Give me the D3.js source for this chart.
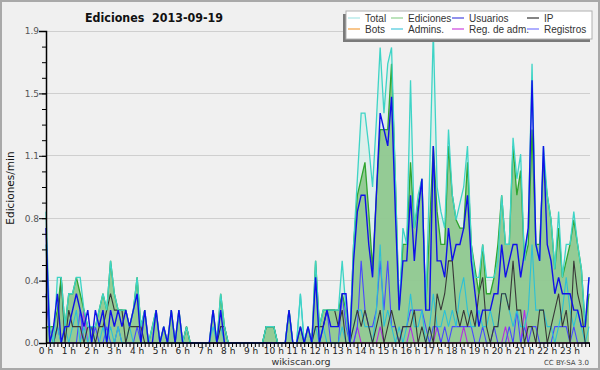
<!DOCTYPE html>
<html><head><meta charset="utf-8">
<script src="https://cdn.jsdelivr.net/npm/d3@7"></script>
<style>html,body{margin:0;padding:0;background:#f0f0f0;}svg{display:block;font-family:"DejaVu Sans",Verdana,sans-serif;}</style>
</head><body>
<svg id="c" width="600" height="370"></svg>
<script>
// ---- data (values per 10-minute slot, edits/min) ----
const hourLabels = ["0 h","1 h","2 h","3 h","4 h","5 h","6 h","7 h","8 h","9 h","10 h","11 h","12 h","13 h","14 h","15 h","16 h","17 h","18 h","19 h","20 h","21 h","22 h","23 h"];
const yTickValues = [0, 0.38, 0.76, 1.14, 1.52, 1.9];
const yTickLabels = ["0.0","0.4","0.8","1.1","1.5","1.9"];
const legendNames = ["Total","Ediciones","Usuarios","IP","Bots","Admins.","Reg. de adm.","Registros"];

const total = [
0.8,0.1,0.0,0.4,0.4,0.1, 0.3,0.3,0.4,0.4,0.2,0.1,
0.1,0.1,0.2,0.3,0.2,0.5, 0.3,0.2,0.2,0.2,0.1,0.2,
0.4,0.1,0.2,0.0,0.1,0.2, 0.0,0.1,0.0,0.2,0.0,0.2,
0.0,0.1,0.0,0.0,0.0,0.0, 0.0,0.0,0.2,0.0,0.3,0.1,
0.0,0.0,0.0,0.0,0.0,0.0, 0.0,0.0,0.0,0.0,0.1,0.1,
0.1,0.0,0.0,0.0,0.2,0.0, 0.0,0.3,0.0,0.1,0.0,0.5,
0.1,0.2,0.2,0.2,0.2,0.2, 0.5,0.2,0.0,0.6,1.0,1.4,
1.4,1.2,0.95,1.35,1.8,1.4, 1.7,1.8,1.0,0.2,0.7,0.6,
1.6,0.7,0.9,1.0,0.2,1.0, 1.9,0.95,0.8,0.7,1.3,0.9,
0.75,0.85,0.95,1.2,0.6,0.4, 0.4,0.6,0.4,0.4,0.4,0.5,
0.9,0.6,0.6,1.25,1.0,1.15, 0.5,0.7,1.7,0.6,0.5,1.2,
0.9,0.75,0.45,0.8,0.4,0.6, 0.6,0.8,0.6,0.45,0.1,0.4];

const ediciones = [
0.1,0.1,0.1,0.2,0.4,0.1, 0.3,0.3,0.4,0.3,0.2,0.1,
0.1,0.1,0.2,0.3,0.2,0.5, 0.3,0.2,0.2,0.2,0.1,0.2,
0.4,0.1,0.2,0.0,0.1,0.2, 0.0,0.1,0.0,0.2,0.0,0.2,
0.0,0.1,0.0,0.0,0.0,0.0, 0.0,0.0,0.2,0.0,0.3,0.1,
0.0,0.0,0.0,0.0,0.0,0.0, 0.0,0.0,0.0,0.0,0.1,0.1,
0.1,0.0,0.0,0.0,0.2,0.0, 0.0,0.1,0.0,0.1,0.0,0.5,
0.1,0.2,0.2,0.2,0.2,0.2, 0.3,0.2,0.0,0.6,0.9,1.0,
1.1,0.8,0.45,0.9,1.3,1.3, 1.3,1.7,1.0,0.2,0.6,0.6,
1.1,0.7,0.85,1.0,0.2,0.7, 1.2,0.8,0.6,0.6,1.2,0.9,
0.75,0.7,0.7,1.1,0.6,0.45, 0.3,0.6,0.3,0.3,0.4,0.6,
0.9,0.6,0.6,1.2,0.9,1.05, 0.5,0.6,1.3,0.6,0.6,1.1,
0.9,0.75,0.45,0.7,0.4,0.5, 0.6,0.75,0.6,0.45,0.1,0.3];

const usuarios = [
0.7,0.0,0.1,0.3,0.0,0.1, 0.1,0.2,0.3,0.2,0.1,0.2,
0.0,0.2,0.1,0.2,0.0,0.2, 0.1,0.2,0.1,0.2,0.1,0.2,
0.3,0.0,0.2,0.0,0.0,0.2, 0.0,0.1,0.0,0.2,0.0,0.2,
0.0,0.0,0.0,0.0,0.0,0.0, 0.0,0.0,0.2,0.0,0.2,0.0,
0.0,0.0,0.0,0.0,0.0,0.0, 0.0,0.0,0.0,0.0,0.0,0.0,
0.0,0.0,0.0,0.0,0.2,0.0, 0.0,0.1,0.0,0.1,0.0,0.4,
0.0,0.1,0.2,0.1,0.1,0.1, 0.3,0.3,0.0,0.5,0.8,0.9,
0.9,0.6,0.4,0.9,1.4,1.3, 1.2,1.5,0.8,0.2,0.5,0.5,
0.9,0.5,0.8,1.0,0.2,0.2, 1.2,0.5,0.5,0.4,0.7,0.5,
0.6,0.6,0.7,0.9,0.5,0.3, 0.1,0.2,0.2,0.2,0.3,0.3,
0.6,0.4,0.5,0.6,0.6,0.4, 0.55,0.7,1.6,0.6,0.5,1.2,
0.6,0.5,0.3,0.4,0.3,0.3, 0.3,0.2,0.2,0.1,0.1,0.4];

const ip = [
0.1,0.1,0.0,0.1,0.4,0.0, 0.2,0.1,0.1,0.1,0.0,0.1,
0.1,0.0,0.1,0.1,0.2,0.3, 0.2,0.2,0.2,0.0,0.1,0.1,
0.1,0.1,0.0,0.0,0.0,0.0, 0.0,0.0,0.0,0.0,0.0,0.0,
0.0,0.1,0.0,0.0,0.0,0.0, 0.0,0.0,0.0,0.0,0.1,0.1,
0.0,0.0,0.0,0.0,0.0,0.0, 0.0,0.0,0.0,0.0,0.1,0.1,
0.1,0.0,0.0,0.0,0.0,0.0, 0.0,0.0,0.0,0.0,0.0,0.1,
0.1,0.1,0.2,0.2,0.2,0.1, 0.2,0.0,0.0,0.1,0.2,0.1,
0.2,0.1,0.0,0.1,0.2,0.0, 0.1,0.2,0.1,0.0,0.1,0.1,
0.1,0.2,0.0,0.1,0.0,0.1, 0.0,0.3,0.2,0.3,0.5,0.5,
0.2,0.1,0.2,0.1,0.2,0.1, 0.3,0.4,0.1,0.0,0.1,0.1,
0.3,0.3,0.2,0.5,0.2,0.2, 0.0,0.1,0.1,0.0,0.2,0.2,
0.0,0.1,0.2,0.3,0.1,0.2, 0.0,0.5,0.3,0.2,0.0,0.0];

const bots = [
0,0,0,0,0,0, 0,0,0,0,0,0, 0,0,0,0,0,0, 0,0,0,0,0,0,
0,0,0,0,0,0, 0,0,0,0,0,0, 0,0,0,0,0,0, 0,0,0,0,0,0,
0,0,0,0,0,0, 0,0,0,0,0,0, 0,0,0,0,0,0, 0,0,0,0,0,0,
0,0,0,0,0,0, 0,0,0,0,0,0, 0,0,0,0,0,0, 0,0,0,0,0,0,
0,0,0,0,0,0, 0,0,0,0,0,0, 0,0,0,0,0,0, 0,0,0,0,0,0,
0,0,0,0,0,0, 0,0,0,0,0,0, 0,0,0,0,0,0, 0,0,0,0,0,0];

const admins = [
0.6,0.0,0.0,0.1,0.0,0.1, 0.0,0.1,0.2,0.0,0.1,0.0,
0.1,0.0,0.0,0.1,0.0,0.1, 0.0,0.1,0.0,0.0,0.1,0.0,
0.0,0.0,0.0,0.0,0.0,0.0, 0.0,0.0,0.0,0.0,0.0,0.0,
0.0,0.0,0.0,0.0,0.0,0.0, 0.0,0.0,0.1,0.0,0.1,0.0,
0.0,0.0,0.0,0.0,0.0,0.0, 0.0,0.0,0.0,0.0,0.1,0.1,
0.1,0.0,0.0,0.0,0.2,0.0, 0.0,0.3,0.0,0.0,0.0,0.1,
0.0,0.1,0.0,0.0,0.0,0.0, 0.1,0.0,0.0,0.1,0.2,0.2,
0.1,0.1,0.0,0.2,0.6,0.1, 0.2,0.1,0.0,0.1,0.0,0.1,
0.3,0.1,0.1,0.2,0.0,0.1, 0.3,0.1,0.1,0.2,0.1,0.2,
0.1,0.3,0.4,0.2,0.1,0.1, 0.2,0.1,0.1,0.2,0.1,0.1,
0.3,0.3,0.2,0.1,0.2,0.1, 0.1,0.2,0.6,0.2,0.2,0.2,
0.1,0.1,0.0,0.1,0.2,0.4, 0.2,0.1,0.2,0.1,0.0,0.1];

const regAdm = [
0,0,0,0,0,0, 0,0,0,0,0.2,0, 0,0,0,0,0,0, 0,0,0,0,0,0,
0,0,0,0,0,0, 0,0,0,0,0,0, 0,0,0,0,0,0, 0,0,0,0,0,0,
0,0,0,0,0,0, 0,0,0,0,0,0, 0,0,0,0,0,0, 0,0,0,0,0,0,
0,0,0,0,0,0, 0,0,0,0,0.1,0, 0,0,0,0,0.1,0, 0,0,0,0,0,0,
0.1,0,0,0,0,0, 0,0.1,0,0,0,0, 0,0,0.1,0,0,0, 0,0,0,0,0,0,
0,0.1,0,0,0,0, 0.2,0,0,0,0,0, 0,0,0,0,0,0, 0,0,0,0,0,0];

const registros = [
0.3,0.0,0.0,0.1,0.0,0.0, 0.0,0.0,0.0,0.2,0.0,0.0,
0.0,0.1,0.0,0.0,0.1,0.0, 0.0,0.1,0.0,0.0,0.0,0.0,
0.1,0.0,0.0,0.0,0.0,0.0, 0.0,0.0,0.0,0.0,0.0,0.0,
0.0,0.0,0.0,0.0,0.0,0.0, 0.0,0.0,0.0,0.0,0.0,0.0,
0.0,0.0,0.0,0.0,0.0,0.0, 0.0,0.0,0.0,0.0,0.0,0.0,
0.0,0.0,0.0,0.0,0.0,0.0, 0.0,0.0,0.0,0.0,0.0,0.0,
0.0,0.1,0.2,0.0,0.0,0.0, 0.3,0.1,0.0,0.0,0.1,0.5,
0.2,0.1,0.1,0.2,0.5,0.2, 0.5,0.1,0.1,0.0,0.1,0.1,
0.2,0.2,0.2,0.2,0.1,0.0, 0.1,0.1,0.0,0.1,0.0,0.1,
0.1,0.1,0.1,0.1,0.1,0.0, 0.0,0.1,0.0,0.0,0.1,0.0,
0.0,0.0,0.1,0.0,0.2,0.0, 0.1,0.0,0.1,0.1,0.0,0.0,
0.0,0.0,0.1,0.1,0.1,0.1, 0.0,0.1,0.0,0.0,0.0,0.0];

// slot index per 10-minute step
const slots = d3.range(total.length);

// ---- drawing ----
const svg = d3.select("#c");
svg.append("rect").attr("x",1).attr("y",1).attr("width",598).attr("height",368)
  .attr("fill","#f0f0f0").attr("stroke","#a9a9a9").attr("stroke-width",2);

const x = d3.scaleLinear().domain([0, slots.length-1]).range([46, 589]);
const y = d3.scaleLinear().domain([0, 1.9]).range([343, 31]);

// grid
svg.append("g").selectAll("line").data(yTickValues.slice(1)).join("line")
  .attr("x1",46).attr("x2",590).attr("y1",d=>y(d)).attr("y2",d=>y(d))
  .attr("stroke","#cfcfcf").attr("stroke-width",1).attr("shape-rendering","crispEdges");

const line = d3.line().x((d,i)=>x(slots[i])).y(d=>y(d));
const area = d3.area().x((d,i)=>x(slots[i])).y0(y(0)).y1(d=>y(d));

const plot = svg.append("g");
plot.append("path").datum(total).attr("d",area).attr("fill","#cfeee8").attr("opacity",0.55);
plot.append("path").datum(ediciones).attr("d",area).attr("fill","#8cc68c").attr("opacity",0.9);

function drawLine(data, color, w){
  plot.append("path").datum(data).attr("d",line).attr("fill","none")
    .attr("stroke",color).attr("stroke-width",w).attr("stroke-linejoin","miter");
}
drawLine(bots,"#f0a040",1);
drawLine(regAdm,"#b52ee0",1.1);
drawLine(registros,"#4848ff",1.1);
drawLine(admins,"#2cc0d6",1.1);
drawLine(ip,"#383838",1.1);
drawLine(ediciones,"#2fa52f",1.3);
drawLine(total,"#3ed4c6",1.3);
drawLine(usuarios,"#1010e8",1.4);

// y axis (minor + major)
const minorY = d3.range(0,21).map(k=>k*1.9/20);
svg.append("g").attr("transform","translate(46,0)")
  .call(d3.axisLeft(y).tickValues(minorY).tickSize(4).tickFormat(""))
  .call(g=>g.select(".domain").remove())
  .selectAll("line").attr("stroke","#000");
const yAx = svg.append("g").attr("transform","translate(46,0)")
  .call(d3.axisLeft(y).tickValues(yTickValues).tickSize(7).tickPadding(0)
    .tickFormat((d,i)=>yTickLabels[i]));
yAx.select(".domain").attr("stroke","#000").attr("stroke-width",1.5);
yAx.selectAll("line").attr("stroke","#000");
yAx.selectAll("text").attr("font-size",9).attr("fill","#555").attr("font-family","DejaVu Sans");

// x axis
const xAx = svg.append("g").attr("transform","translate(0,343)")
  .call(d3.axisBottom(x).tickValues(slots).tickSize(4).tickFormat(""));
xAx.select(".domain").attr("stroke","#000").attr("stroke-width",1.5).attr("d","M46,0H590");
xAx.selectAll("line").attr("stroke","#000");
svg.append("g").selectAll("text").data(hourLabels).join("text")
  .attr("x",(d,i)=>x(i*6)).attr("y",354).attr("text-anchor","middle")
  .attr("font-size",9).attr("fill","#222").text(d=>d);

// titles
svg.append("text").attr("x",154).attr("y",22).attr("text-anchor","middle")
  .attr("font-size",13).attr("font-weight","bold").attr("fill","#111")
  .attr("textLength",138).attr("lengthAdjust","spacingAndGlyphs")
  .style("white-space","pre").text("Ediciones  2013-09-19");
svg.append("text").attr("transform","translate(14,188) rotate(-90)")
  .attr("text-anchor","middle").attr("font-size",10.5).attr("fill","#111")
  .text("Ediciones/min");
svg.append("text").attr("x",301).attr("y",365).attr("text-anchor","middle")
  .attr("font-size",9.5).attr("fill","#333").text("wikiscan.org");
svg.append("text").attr("x",589).attr("y",365).attr("text-anchor","end")
  .attr("font-size",7).attr("fill","#444").text("CC BY-SA 3.0");

// legend
const legColors = ["#a8e6e6","#8fd08f","#4646e0","#333333","#f4a040","#48c8dc","#cc44dd","#7878ff"];
const lg = svg.append("g");
lg.append("rect").attr("x",343).attr("y",14).attr("width",247).attr("height",28).attr("fill","#7a7a7a");
lg.append("rect").attr("x",346).attr("y",11).attr("width",246).attr("height",28)
  .attr("fill","#fff").attr("stroke","#b0b0b0").attr("stroke-width",1);
const colX = [348, 391, 452, 527];
legendNames.forEach((n,i)=>{
  const c = i%4, r = Math.floor(i/4);
  const cy = 18 + r*11;
  lg.append("line").attr("x1",colX[c]).attr("x2",colX[c]+12).attr("y1",cy).attr("y2",cy)
    .attr("stroke",legColors[i]).attr("stroke-width",1.2);
  lg.append("text").attr("x",colX[c]+17).attr("y",cy+3.5).attr("font-size",10)
    .attr("font-family","'Liberation Sans',Arial,sans-serif")
    .attr("fill","#333").text(n);
});
</script>
</body></html>
